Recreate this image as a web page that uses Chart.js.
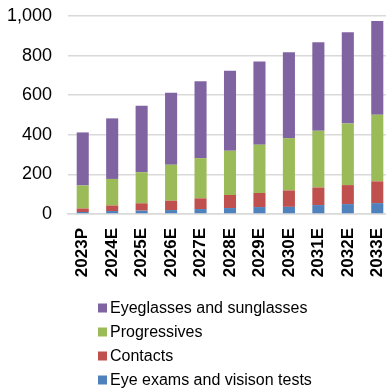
<!DOCTYPE html>
<html>
<head>
<meta charset="utf-8">
<script src="https://cdn.jsdelivr.net/npm/chart.js@4/dist/chart.umd.min.js"></script>
<style>
  html, body { margin: 0; padding: 0; background: #fff; overflow: hidden; width: 386px; height: 390px; }
  #wrap { position: relative; width: 392px; height: 390px; }
</style>
</head>
<body>
<div id="wrap"><canvas id="c" width="392" height="390"></canvas></div>
<script>
const categories = ['2023P','2024E','2025E','2026E','2027E','2028E','2029E','2030E','2031E','2032E','2033E'];
const eyeExams      = [10, 15, 17, 20, 25, 30, 35, 36, 45, 50, 55];
const contacts      = [18, 28, 37, 47, 54, 66, 71, 83, 89, 96, 110];
const progressives  = [116, 134, 157, 182, 203, 223, 244, 264, 286, 311, 336];
const eyeglasses    = [268, 306, 336, 363, 389, 404, 420, 434, 447, 461, 474];
const yTicks = [0, 200, 400, 600, 800, 1000];

const FONT = "'Liberation Sans', Arial, sans-serif";

const legendPlugin = {
  id: 'vlegend',
  afterDraw(chart) {
    const ctx = chart.ctx;
    const ds = chart.data.datasets.slice().reverse();
    const base = chart.chartArea.bottom + 94;
    ctx.save();
    ctx.font = '16px ' + FONT;
    ctx.textBaseline = 'middle';
    ds.forEach((d, i) => {
      const y = base + i * 24;
      ctx.fillStyle = d.backgroundColor;
      ctx.fillRect(98, y - 4.5, 9, 9);
      ctx.fillStyle = '#000';
      ctx.fillText(d.label, 110, y + 1);
    });
    ctx.restore();
  }
};

new Chart(document.getElementById('c'), {
  type: 'bar',
  data: {
    labels: categories,
    datasets: [
      { label: 'Eye exams and visison tests', data: eyeExams, backgroundColor: '#4F81BD' },
      { label: 'Contacts', data: contacts, backgroundColor: '#C0504D' },
      { label: 'Progressives', data: progressives, backgroundColor: '#9BBB59' },
      { label: 'Eyeglasses and sunglasses', data: eyeglasses, backgroundColor: '#8064A2' }
    ]
  },
  options: {
    responsive: false,
    animation: false,
    events: [],
    datasets: { bar: { barPercentage: 0.41, categoryPercentage: 1.0, borderWidth: 0 } },
    layout: { padding: { top: 16, left: 0, right: 0, bottom: 0 } },
    plugins: { legend: { display: false }, tooltip: { enabled: false } },
    scales: {
      x: {
        stacked: true,
        grid: { display: false, drawTicks: false },
        border: { display: true, color: '#d9d9d9', width: 1.5 },
        ticks: {
          color: '#000', font: { family: FONT, size: 17, weight: 'bold' },
          maxRotation: 90, minRotation: 90, padding: 14, autoSkip: false
        },
        afterFit(s) { s.height = 176; s.paddingLeft = 0; s.paddingRight = 0; }
      },
      y: {
        stacked: true,
        min: 0, max: 1000,
        afterBuildTicks(s) { s.ticks = yTicks.map(v => ({ value: v })); },
        grid: { color: '#d9d9d9', lineWidth: 1.5, drawTicks: false },
        border: { display: false },
        ticks: {
          color: '#000', font: { family: FONT, size: 18 }, padding: 16,
          callback: v => v.toLocaleString('en-US')
        },
        afterFit(s) { s.width = 68; s.paddingTop = 0; s.paddingBottom = 0; }
      }
    }
  },
  plugins: [legendPlugin]
});
</script>
</body>
</html>
